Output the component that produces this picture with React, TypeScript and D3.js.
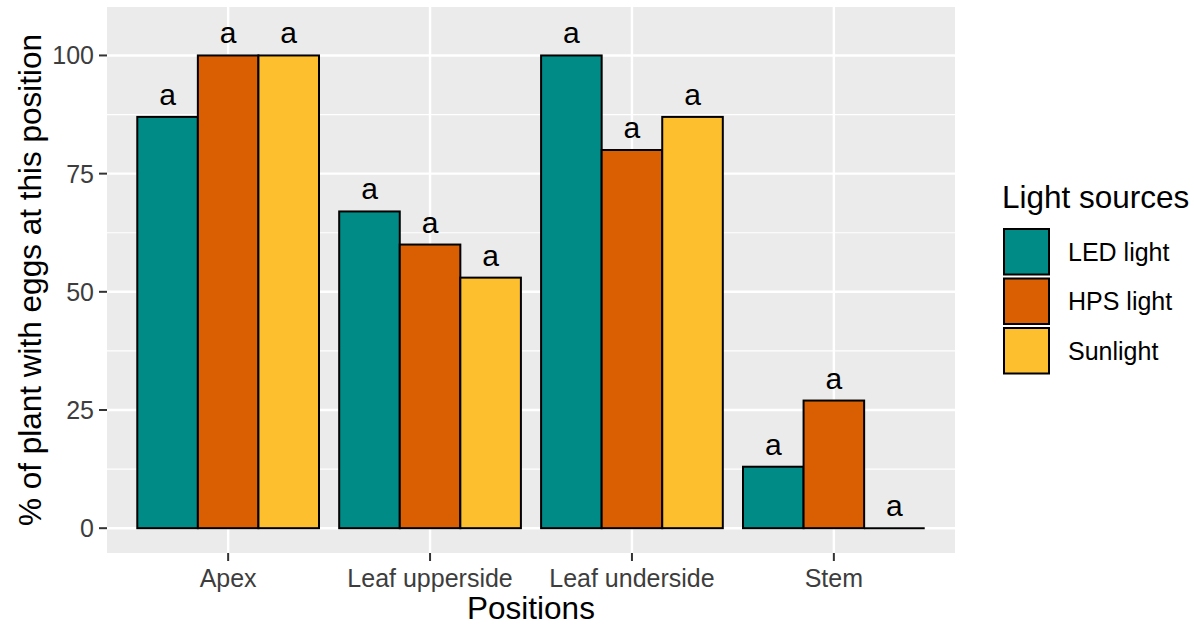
import * as d3 from 'd3'

// Chart data
const positions = ['Apex', 'Leaf upperside', 'Leaf underside', 'Stem']
const sources = ['LED light', 'HPS light', 'Sunlight']
const ledValues = [87, 67, 100, 13]
const hpsValues = [100, 60, 80, 27]
const sunValues = [100, 53, 87, 0]
const letters = [
  ['a', 'a', 'a'],
  ['a', 'a', 'a'],
  ['a', 'a', 'a'],
  ['a', 'a', 'a'],
]
const yTicks = [0, 25, 50, 75, 100]
const yMinor = [12.5, 37.5, 62.5, 87.5]
const colors = ['#008b87', '#d95f02', '#fdbf2d']

const W = 1194
const H = 626
const panel = { left: 107, top: 7, right: 955, bottom: 553 }
const font = '"Liberation Sans", Arial, Helvetica, sans-serif'

export default function App() {
  const series = [ledValues, hpsValues, sunValues]

  // ggplot discrete expansion: 0.6 units each side
  const x = d3.scaleLinear()
    .domain([0.4, positions.length + 0.6])
    .range([panel.left, panel.right])
  const y = d3.scaleLinear()
    .domain([-5.25, 110.25])
    .range([panel.bottom, panel.top])

  const groupWidth = 0.9
  const barW = groupWidth / sources.length

  const bars: { px: number; py: number; w: number; h: number; fill: string; label: string; cx: number }[] = []
  positions.forEach((p, i) => {
    series.forEach((vals, j) => {
      const left = i + 1 - groupWidth / 2 + j * barW
      const x0 = x(left)
      const x1 = x(left + barW)
      const v = vals[i]
      bars.push({
        px: x0,
        py: y(v),
        w: x1 - x0,
        h: y(0) - y(v),
        fill: colors[j],
        label: letters[i][j],
        cx: (x0 + x1) / 2,
      })
    })
  })

  const keyPitch = 49.5
  const legendTop = 228

  return (
    <svg
      width={W}
      height={H}
      style={{ position: 'absolute', left: 0, top: 0, background: '#fff', fontFamily: font }}
    >
      <rect
        x={panel.left}
        y={panel.top}
        width={panel.right - panel.left}
        height={panel.bottom - panel.top}
        fill="#ebebeb"
      />
      {yMinor.map(t => (
        <line key={'mn' + t} x1={panel.left} x2={panel.right} y1={y(t)} y2={y(t)} stroke="#fff" strokeWidth={1.2} />
      ))}
      {yTicks.map(t => (
        <line key={'mj' + t} x1={panel.left} x2={panel.right} y1={y(t)} y2={y(t)} stroke="#fff" strokeWidth={2.4} />
      ))}
      {positions.map((p, i) => (
        <line key={'vx' + p} x1={x(i + 1)} x2={x(i + 1)} y1={panel.top} y2={panel.bottom} stroke="#fff" strokeWidth={2.4} />
      ))}

      {bars.map((b, k) => (
        <g key={'b' + k}>
          {b.h > 0 ? (
            <rect x={b.px} y={b.py} width={b.w} height={b.h} fill={b.fill} stroke="#000" strokeWidth={2} />
          ) : (
            <line x1={b.px} x2={b.px + b.w} y1={b.py} y2={b.py} stroke="#000" strokeWidth={2} />
          )}
          <text x={b.cx} y={b.py - 12} textAnchor="middle" fontSize={30} fill="#000">
            {b.label}
          </text>
        </g>
      ))}

      {/* y axis */}
      {yTicks.map(t => (
        <g key={'yt' + t}>
          <line x1={panel.left - 8} x2={panel.left} y1={y(t)} y2={y(t)} stroke="#333" strokeWidth={2} />
          <text x={panel.left - 13} y={y(t)} dy="0.36em" textAnchor="end" fontSize={25} fill="#3d3d3d">
            {t}
          </text>
        </g>
      ))}
      {/* x axis */}
      {positions.map((p, i) => (
        <g key={'xt' + p}>
          <line x1={x(i + 1)} x2={x(i + 1)} y1={panel.bottom} y2={panel.bottom + 8} stroke="#333" strokeWidth={2} />
          <text x={x(i + 1)} y={587} textAnchor="middle" fontSize={25} fill="#3d3d3d">
            {p}
          </text>
        </g>
      ))}

      <text x={(panel.left + panel.right) / 2} y={619} textAnchor="middle" fontSize={31.5} fill="#000">
        Positions
      </text>
      <text
        transform={`translate(41,${(panel.top + panel.bottom) / 2}) rotate(-90)`}
        textAnchor="middle"
        fontSize={31.5}
        fill="#000"
      >
        % of plant with eggs at this position
      </text>

      {/* legend */}
      <text x={1002} y={208} fontSize={31.5} fill="#000">Light sources</text>
      {sources.map((s, j) => (
        <g key={'lg' + s} transform={`translate(1003,${legendTop + j * keyPitch})`}>
          <rect x={1} y={1} width={45} height={keyPitch - 4} fill={colors[j]} stroke="#000" strokeWidth={2} />
          <text x={65} y={(keyPitch - 2) / 2} dy="0.36em" fontSize={25} fill="#000">
            {s}
          </text>
        </g>
      ))}
    </svg>
  )
}
